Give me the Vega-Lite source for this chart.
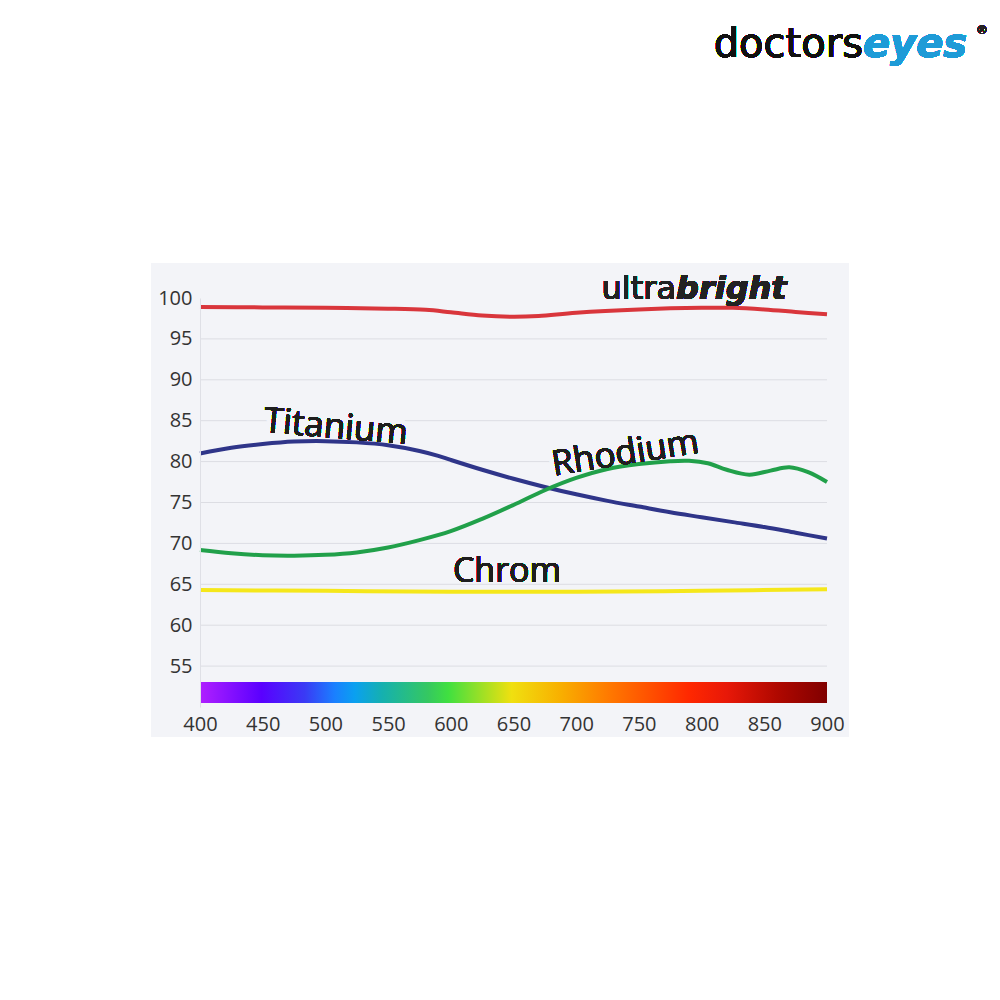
{
  "$schema": "https://vega.github.io/schema/vega-lite/v6.json",
  "width": 627,
  "height": 409,
  "autosize": {"type": "none"},
  "padding": {"left": 200, "top": 298, "right": 173, "bottom": 293},
  "background": "#ffffff",
  "config": {"view": {"stroke": null}},
  "datasets": {
    "curves": [
      {"s": "ultrabright", "wl": 400, "v": 98.9},
      {"s": "ultrabright", "wl": 450, "v": 98.85},
      {"s": "ultrabright", "wl": 500, "v": 98.8},
      {"s": "ultrabright", "wl": 550, "v": 98.7},
      {"s": "ultrabright", "wl": 580, "v": 98.55},
      {"s": "ultrabright", "wl": 600, "v": 98.25},
      {"s": "ultrabright", "wl": 625, "v": 97.85},
      {"s": "ultrabright", "wl": 650, "v": 97.7},
      {"s": "ultrabright", "wl": 670, "v": 97.8},
      {"s": "ultrabright", "wl": 700, "v": 98.2},
      {"s": "ultrabright", "wl": 750, "v": 98.6},
      {"s": "ultrabright", "wl": 800, "v": 98.8},
      {"s": "ultrabright", "wl": 825, "v": 98.8},
      {"s": "ultrabright", "wl": 850, "v": 98.6},
      {"s": "ultrabright", "wl": 875, "v": 98.3},
      {"s": "ultrabright", "wl": 900, "v": 98.0},
      {"s": "Titanium", "wl": 400, "v": 81.0},
      {"s": "Titanium", "wl": 425, "v": 81.7},
      {"s": "Titanium", "wl": 450, "v": 82.15},
      {"s": "Titanium", "wl": 475, "v": 82.45},
      {"s": "Titanium", "wl": 500, "v": 82.5},
      {"s": "Titanium", "wl": 525, "v": 82.35},
      {"s": "Titanium", "wl": 550, "v": 82.0},
      {"s": "Titanium", "wl": 575, "v": 81.3},
      {"s": "Titanium", "wl": 590, "v": 80.7},
      {"s": "Titanium", "wl": 600, "v": 80.2},
      {"s": "Titanium", "wl": 625, "v": 79.0},
      {"s": "Titanium", "wl": 650, "v": 77.9},
      {"s": "Titanium", "wl": 675, "v": 76.9},
      {"s": "Titanium", "wl": 700, "v": 76.0},
      {"s": "Titanium", "wl": 725, "v": 75.2},
      {"s": "Titanium", "wl": 750, "v": 74.5},
      {"s": "Titanium", "wl": 775, "v": 73.8},
      {"s": "Titanium", "wl": 800, "v": 73.2},
      {"s": "Titanium", "wl": 825, "v": 72.6},
      {"s": "Titanium", "wl": 850, "v": 72.0},
      {"s": "Titanium", "wl": 875, "v": 71.3},
      {"s": "Titanium", "wl": 900, "v": 70.6},
      {"s": "Rhodium", "wl": 400, "v": 69.2},
      {"s": "Rhodium", "wl": 425, "v": 68.8},
      {"s": "Rhodium", "wl": 450, "v": 68.55},
      {"s": "Rhodium", "wl": 475, "v": 68.5},
      {"s": "Rhodium", "wl": 500, "v": 68.6},
      {"s": "Rhodium", "wl": 525, "v": 68.9},
      {"s": "Rhodium", "wl": 550, "v": 69.5},
      {"s": "Rhodium", "wl": 575, "v": 70.4},
      {"s": "Rhodium", "wl": 600, "v": 71.5},
      {"s": "Rhodium", "wl": 625, "v": 73.0},
      {"s": "Rhodium", "wl": 650, "v": 74.7},
      {"s": "Rhodium", "wl": 675, "v": 76.5},
      {"s": "Rhodium", "wl": 700, "v": 78.0},
      {"s": "Rhodium", "wl": 725, "v": 79.1},
      {"s": "Rhodium", "wl": 750, "v": 79.7},
      {"s": "Rhodium", "wl": 775, "v": 80.05},
      {"s": "Rhodium", "wl": 790, "v": 80.1},
      {"s": "Rhodium", "wl": 805, "v": 79.8},
      {"s": "Rhodium", "wl": 820, "v": 79.0},
      {"s": "Rhodium", "wl": 838, "v": 78.4},
      {"s": "Rhodium", "wl": 855, "v": 78.9},
      {"s": "Rhodium", "wl": 870, "v": 79.3},
      {"s": "Rhodium", "wl": 885, "v": 78.7},
      {"s": "Rhodium", "wl": 900, "v": 77.5},
      {"s": "Chrom", "wl": 400, "v": 64.3},
      {"s": "Chrom", "wl": 500, "v": 64.2},
      {"s": "Chrom", "wl": 600, "v": 64.1},
      {"s": "Chrom", "wl": 700, "v": 64.1},
      {"s": "Chrom", "wl": 800, "v": 64.2},
      {"s": "Chrom", "wl": 900, "v": 64.4}
    ],
    "grid": [{"g": 55}, {"g": 60}, {"g": 65}, {"g": 70}, {"g": 75}, {"g": 80}, {"g": 85}, {"g": 90}, {"g": 95}]
  },
  "data": {"name": "curves"},
  "layer": [
    {
      "mark": {"type": "rect", "fill": "#f3f4f8", "clip": false},
      "encoding": {
        "x": {"datum": 360.9, "type": "quantitative", "scale": {"domain": [400, 900], "nice": false, "zero": false},
              "axis": {"values": [400, 450, 500, 550, 600, 650, 700, 750, 800, 850, 900], "title": null, "grid": false, "domain": false, "ticks": false, "tickSize": 0, "labelPadding": 23, "labelBaseline": "alphabetic", "labelFont": "Open Sans", "labelFontSize": 20, "labelColor": "#333333", "labelFlush": false, "labelOverlap": false, "zindex": 1}},
        "x2": {"datum": 917.5},
        "y": {"datum": 104.28, "type": "quantitative", "scale": {"domain": [50, 100], "nice": false, "zero": false},
              "axis": {"values": [55, 60, 65, 70, 75, 80, 85, 90, 95, 100], "title": null, "grid": false, "domain": true, "domainColor": "#dfe0e6", "domainWidth": 1, "ticks": false, "tickSize": 0, "labelPadding": 8, "labelFont": "Open Sans", "labelFontSize": 20, "labelColor": "#333333", "labelFlush": false, "labelOverlap": false, "zindex": 1}},
        "y2": {"datum": 46.33}
      }
    },
    {
      "data": {"name": "grid"},
      "mark": {"type": "rule", "stroke": "#dcdde3", "strokeWidth": 1},
      "encoding": {
        "y": {"field": "g", "type": "quantitative"},
        "x": {"datum": 400},
        "x2": {"datum": 900}
      }
    },
    {
      "mark": {"type": "rect", "fill": {"gradient": "linear", "x1": 0, "y1": 0, "x2": 1, "y2": 0, "stops": [
        {"offset": 0, "color": "#b020ff"},
        {"offset": 0.098, "color": "#5a00ff"},
        {"offset": 0.167, "color": "#3a3af5"},
        {"offset": 0.215, "color": "#1a80ff"},
        {"offset": 0.247, "color": "#0aa0f0"},
        {"offset": 0.29, "color": "#15b0b0"},
        {"offset": 0.364, "color": "#35c860"},
        {"offset": 0.396, "color": "#40e040"},
        {"offset": 0.46, "color": "#b0e020"},
        {"offset": 0.497, "color": "#f0e010"},
        {"offset": 0.574, "color": "#f8b000"},
        {"offset": 0.654, "color": "#ff7800"},
        {"offset": 0.718, "color": "#ff5000"},
        {"offset": 0.78, "color": "#ff2800"},
        {"offset": 0.84, "color": "#e81808"},
        {"offset": 0.92, "color": "#b00800"},
        {"offset": 1, "color": "#800000"}
      ]}},
      "encoding": {
        "x": {"datum": 400},
        "x2": {"datum": 900},
        "y": {"datum": 53},
        "y2": {"datum": 50.5}
      }
    },
    {
      "mark": {"type": "text", "text": "Titanium", "font": "Open Sans", "fontSize": 35, "align": "center", "baseline": "alphabetic", "angle": 5, "fill": "#f3f4f8", "stroke": "#f3f4f8", "strokeWidth": 10, "clip": false},
      "encoding": {"x": {"datum": 507.6}, "y": {"datum": 82.89}}
    },
    {
      "mark": {"type": "text", "text": "Rhodium", "font": "Open Sans", "fontSize": 35, "align": "center", "baseline": "alphabetic", "angle": -9, "fill": "#f3f4f8", "stroke": "#f3f4f8", "strokeWidth": 10, "clip": false},
      "encoding": {"x": {"datum": 740.5}, "y": {"datum": 79.7}}
    },
    {
      "mark": {"type": "line", "strokeWidth": 4, "interpolate": "catmull-rom"},
      "encoding": {
        "x": {"field": "wl", "type": "quantitative"},
        "y": {"field": "v", "type": "quantitative"},
        "color": {"field": "s", "type": "nominal", "legend": null,
                  "scale": {"domain": ["ultrabright", "Titanium", "Rhodium", "Chrom"], "range": ["#d9363c", "#2f3589", "#21a04a", "#f5e71b"]}}
      }
    },
    {
      "mark": {"type": "text", "text": "Titanium", "font": "Open Sans", "fontSize": 35, "align": "center", "baseline": "alphabetic", "angle": 5, "color": "#1e1e1e", "clip": false},
      "encoding": {"x": {"datum": 507.6}, "y": {"datum": 82.89}}
    },
    {
      "mark": {"type": "text", "text": "Rhodium", "font": "Open Sans", "fontSize": 35, "align": "center", "baseline": "alphabetic", "angle": -9, "color": "#1e1e1e", "clip": false},
      "encoding": {"x": {"datum": 740.5}, "y": {"datum": 79.7}}
    },
    {
      "mark": {"type": "text", "text": "Chrom", "font": "Open Sans", "fontSize": 34, "align": "left", "baseline": "alphabetic", "color": "#1e1e1e", "clip": false},
      "encoding": {"x": {"datum": 601.7}, "y": {"datum": 65.28}}
    },
    {
      "mark": {"type": "text", "text": "ultra", "font": "DejaVu Sans", "fontSize": 32, "align": "right", "baseline": "alphabetic", "color": "#222222", "clip": false},
      "encoding": {"x": {"datum": 779.6}, "y": {"datum": 99.84}}
    },
    {
      "mark": {"type": "text", "text": "bright", "font": "DejaVu Sans", "fontSize": 32, "fontWeight": "bold", "fontStyle": "italic", "align": "left", "baseline": "alphabetic", "color": "#222222", "clip": false},
      "encoding": {"x": {"datum": 779.6}, "y": {"datum": 99.84}}
    },
    {
      "mark": {"type": "text", "text": "doctors", "font": "DejaVu Sans", "fontSize": 40, "align": "right", "baseline": "alphabetic", "color": "#111111", "clip": false},
      "encoding": {"x": {"datum": 928.7}, "y": {"datum": 129.46}}
    },
    {
      "mark": {"type": "text", "text": "eyes", "font": "DejaVu Sans", "fontSize": 40, "fontWeight": "bold", "fontStyle": "italic", "align": "left", "baseline": "alphabetic", "color": "#1e9bd7", "clip": false},
      "encoding": {"x": {"datum": 928.7}, "y": {"datum": 129.46}}
    },
    {
      "mark": {"type": "text", "text": "®", "font": "DejaVu Sans", "fontSize": 12, "align": "center", "baseline": "alphabetic", "color": "#222222", "clip": false},
      "encoding": {"x": {"datum": 1023.6}, "y": {"datum": 132.3}}
    }
  ]
}
